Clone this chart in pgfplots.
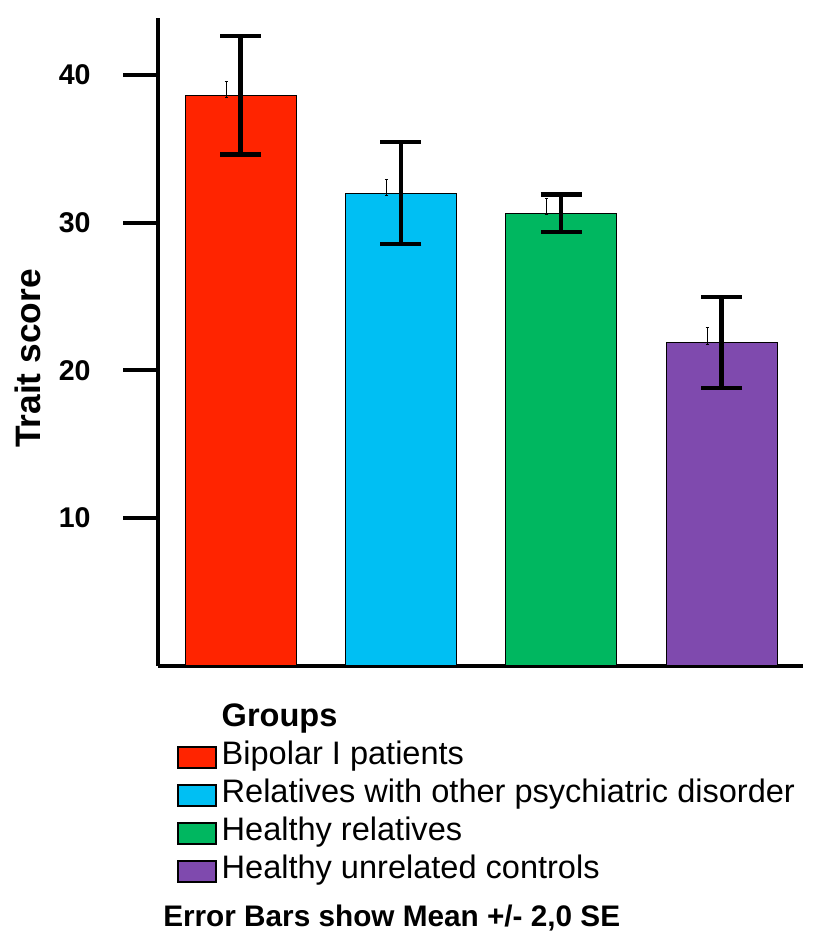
\documentclass[border=0pt]{standalone}
\usepackage{pgfplots}
\pgfplotsset{compat=1.18}
\usepackage{fontspec}
\setmainfont{Liberation Sans}
\definecolor{cred}{HTML}{FF2400}
\definecolor{ccyan}{HTML}{00BFF3}
\definecolor{cgreen}{HTML}{00B760}
\definecolor{cpurple}{HTML}{7F4AAE}
\pgfplotsset{
  mybar/.style={ybar, bar width=83.25pt, bar shift=0pt, fill=#1, draw=black, line width=0.5pt,
    error bars/.cd, y dir=both, y explicit,
    error bar style={line width=3.3pt, black},
    error mark options={rotate=90, mark size=15.4pt, line width=3.3pt, black},
    /pgfplots/legend image code/.code={\draw[fill=#1, draw=black, line width=1.5pt] (0pt,-8pt) rectangle (28.5pt,8pt);}},
  tiny/.style={draw=none, mark=none, forget plot,
    error bars/.cd, y dir=both, y explicit,
    error bar style={line width=0.6pt, draw=black},
    error mark options={rotate=90, mark size=1.2pt, line width=0.6pt, draw=black}}
}
\begin{document}
\begin{tikzpicture}
\path[use as bounding box] (0,0) rectangle (613.5pt,706.5pt);
\begin{axis}[
  at={(118.5pt,207.2pt)}, anchor=south west,
  scale only axis, width=483.75pt, height=485.8pt,
  xmin=-0.515, xmax=3.508, ymin=0, ymax=43.86,
  axis x line*=bottom, axis y line*=left,
  axis line style={line width=3.2pt, -},
  xtick=\empty, ytick={10,20,30,40},
  tick align=outside, major tick length=26pt,
  ytick style={line width=3pt, black},
  /pgf/number format/assume math mode=true,
  yticklabel style={font=\bfseries\fontsize{21.4}{21.4}\selectfont, xshift=-21pt},
  ylabel={Trait score},
  ylabel style={at={(axis description cs:-0.2023,0.4743)}, anchor=center, font=\bfseries\fontsize{26.5}{26.5}\selectfont},
  legend cell align=left,
  legend style={at={(axis description cs:0.0295,-0.054)}, anchor=north west, draw=none, fill=none,
    inner sep=0pt, outer sep=0pt, row sep=0pt,
    font=\fontsize{24.4}{29}\selectfont,
    nodes={inner sep=0pt, text height=19pt, text depth=9.5pt},
    /tikz/every odd column/.append style={column sep=3.5pt}},
]
\addlegendimage{empty legend}
\addlegendentry{\textbf{Groups}}
\addplot[mybar=cred] coordinates {(0,38.62) +- (0,4.0)};
\addlegendentry{Bipolar I patients}
\addplot[mybar=ccyan] coordinates {(1,32.0) +- (0,3.45)};
\addlegendentry{Relatives with other psychiatric disorder}
\addplot[mybar=cgreen] coordinates {(2,30.64) +- (0,1.27)};
\addlegendentry{Healthy relatives}
\addplot[mybar=cpurple] coordinates {(3,21.87) +- (0,3.08)};
\addlegendentry{Healthy unrelated controls}
\addplot[tiny] coordinates {(-0.09,39.05) +- (0,0.54) (0.91,32.38) +- (0,0.55) (1.91,31.13) +- (0,0.54) (2.91,22.33) +- (0,0.6)};
\end{axis}
\node[anchor=base west, inner sep=0pt, font=\bfseries\fontsize{22.3}{22.3}\selectfont] at (122.25pt,11.6pt) {Error Bars show Mean +/- 2,0 SE};
\end{tikzpicture}
\end{document}
